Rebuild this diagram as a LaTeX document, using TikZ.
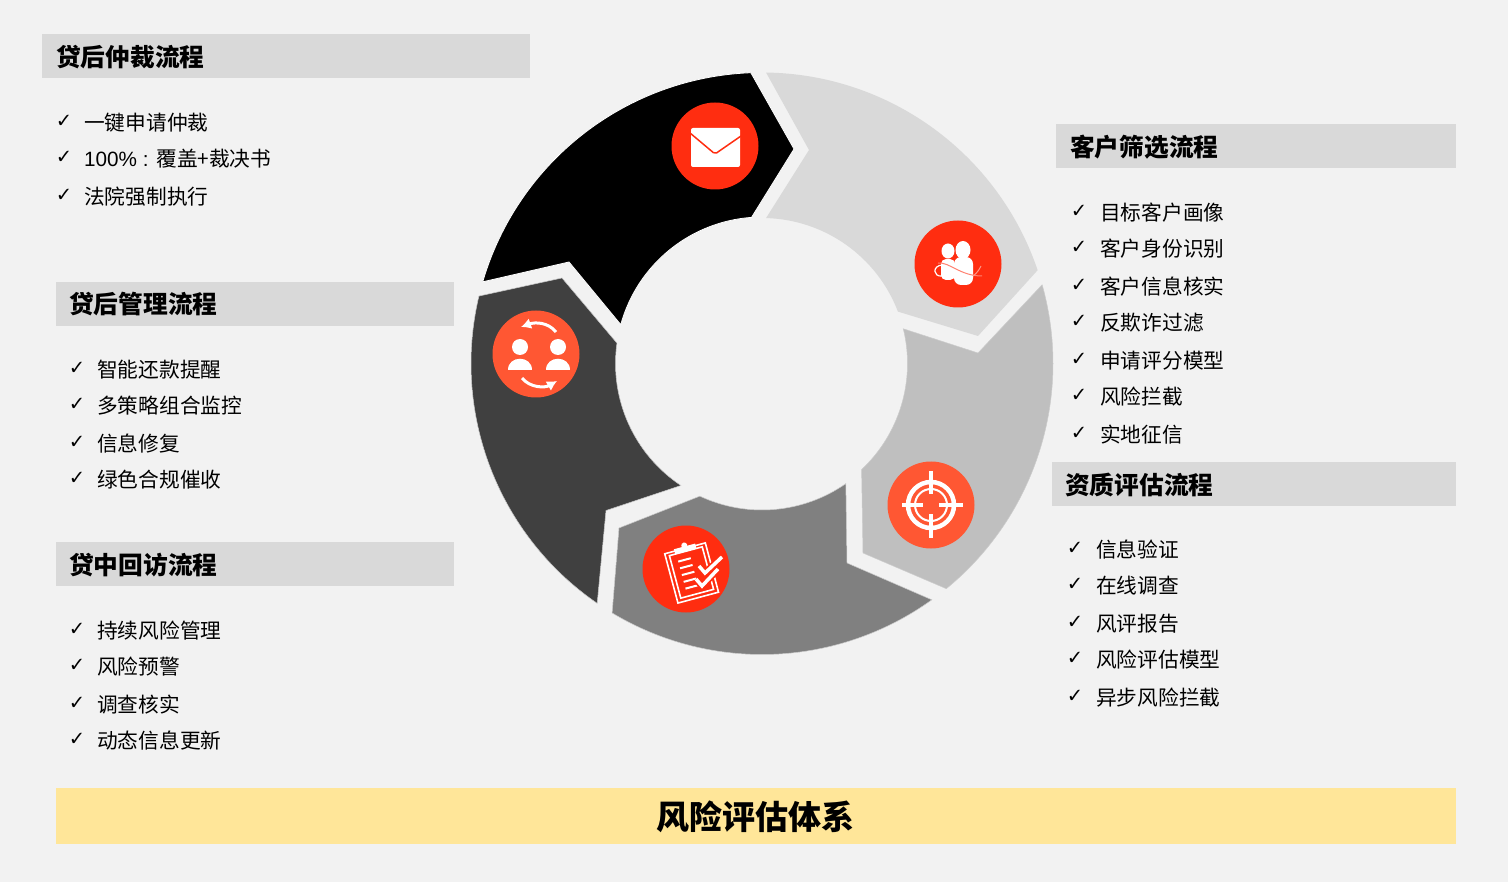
\documentclass[tikz,border=0pt]{standalone}
\usepackage{fontspec}
\setmainfont{Noto Sans CJK SC}
\newfontfamily\tickfont{DejaVu Sans}
\newfontfamily\latinfont{Liberation Sans}
\usetikzlibrary{arrows.meta}
\definecolor{bgcol}{HTML}{F2F2F2}
\definecolor{headcol}{HTML}{D9D9D9}
\definecolor{titlecol}{HTML}{FFE699}
\definecolor{redcol}{HTML}{FF2D10}
\definecolor{orangecol}{HTML}{FF5733}
\tikzset{
  headbox/.style={fill=headcol, draw=none},
  headtext/.style={anchor=west, inner sep=0, font=\fontsize{24.7}{24.7}\selectfont\bfseries},
  itemtext/.style={anchor=west, inner sep=0, yshift=-.5pt, font=\fontsize{20.7}{20.7}\selectfont},
  tick/.style={inner sep=0, xshift=-1pt, yshift=-1pt, font=\tickfont\bfseries\fontsize{19.5}{19.5}\selectfont},
  iconcircle/.style={circle, inner sep=0, minimum size=87pt, fill=#1, draw=none},
  iconline/.style={draw=white, line width=2pt}
}
\begin{document}
\begin{tikzpicture}[x=1pt, y=-1pt]
    \fill[bgcol] (0,0) rectangle (1508,882);

    % ring
    \begin{scope}[shift={(762,363.5)}, y=1pt]
      \draw[fill=black, draw=white, line width=.8pt] (163.7:291) arc[start angle=163.7, end angle=92.2, radius=291]
        -- (32,214.5) -- (94.1:146.5) arc[start angle=94.1, end angle=164.6, radius=146.5] -- (-193,101.5) -- cycle;
      \draw[fill=headcol, draw=none] (89.2:291) arc[start angle=89.2, end angle=18.7, radius=291]
        -- (216,27.5) -- (20.9:145.5) arc[start angle=20.9, end angle=88.4, radius=145.5] -- (47,213.5) -- cycle;
      \draw[fill=black!25, draw=black!20, line width=.5pt] (15.7:291) arc[start angle=15.7, end angle=-50.7, radius=291]
        -- (101,-189.5) -- (-46.8:145.5) arc[start angle=-46.8, end angle=13.8, radius=145.5] -- (216,10.5) -- cycle;
      \draw[fill=black!50, draw=black!20, line width=.5pt] (-54.3:291) arc[start angle=-54.3, end angle=-121, radius=291]
        -- (-143,-164.5) -- (-115.1:146.5) arc[start angle=-115.1, end angle=-55.1, radius=146.5] -- (85,-199.5) -- cycle;
      \draw[fill=black!75, draw=black!20, line width=.5pt] (235.5:291) arc[start angle=235.5, end angle=166.6, radius=291]
        -- (-200,85.5) -- (172:146.5) arc[start angle=172, end angle=236.4, radius=146.5] -- (-156,-147) -- cycle;
    \end{scope}

    \node[iconcircle=redcol] (mail) at (715,146){};
    \node[iconcircle=redcol] (people) at (958,264){};
    \node[iconcircle=orangecol] (target) at (931,505){};
    \node[iconcircle=redcol] (clipboard) at (686,569){};
    \node[iconcircle=orangecol] (team) at (536,354){};

    % mail icon
    \fill[white, rounded corners=2pt] (691,128) rectangle (740,167);
    \draw[redcol, line width=1.5pt, rounded corners=2pt] (690,133) -- (715,154) -- (741,136);

    % people icon
    \fill[white] (948,251) ellipse (6.5 and 7.5);
    \fill[white] (963,250) ellipse (7.5 and 9);
    \fill[white, rounded corners=5pt] (941,259) rectangle (955,280);
    \fill[white, rounded corners=7pt] (954,257) rectangle (973,285);
    \draw[white, line width=1.2pt] (942,265) .. controls (932,266) and (933,277) .. (942,276);
    \draw[redcol!60!white, line width=1pt] (938,263) .. controls (950,262) and (960,276) .. (982,276);
    \draw[redcol!50!white, line width=1pt] (973,276) .. controls (977,273) and (979,270) .. (981,266);

    % target icon
    \draw[white, line width=4.5pt] (target) circle (23);
    \draw[white, line width=2pt] (target) circle (16);
    \draw[white, line width=3.5pt] (902,505) -- (923,505);
    \draw[white, line width=3.5pt] (939,505) -- (963,505);
    \draw[white, line width=3.5pt] (931,471) -- (931,494);
    \draw[white, line width=3.5pt] (931,514) -- (931,538);

    % clipboard icon
    \begin{scope}[shift={(691.5,572.5)}, rotate=15]
      \draw[iconline, line width=1.6pt] (-21,-25) rectangle (21,26);
      \draw[iconline, line width=1.6pt] (-17,-22) rectangle (17,22);
      \fill[white] (-11,-27) rectangle (11,-22);
      \fill[white] (0,-28) circle (3);
      \draw[iconline] (-10,-14) -- (3,-14);
      \draw[iconline] (-10,-7) -- (3,-7);
      \draw[iconline] (-10,0) -- (3,0);
      \draw[iconline] (-10,7) -- (3,7);
      \draw[iconline] (-10,14) -- (3,14);
    \end{scope}
    \draw[redcol, line width=7pt] (699,566) -- (705,573) -- (722,557);
    \draw[redcol, line width=7pt] (696,579) -- (702,586) -- (718,569);
    \draw[white, line width=3.5pt] (699,566) -- (705,573) -- (722,557);
    \draw[white, line width=3.5pt] (696,579) -- (702,586) -- (718,569);

    % team icon
    \fill[white] (520,347) circle (8);
    \fill[white] (558,347) circle (8);
    \fill[white] (508,370) .. controls (508,355) and (532,355) .. (532,370) -- cycle;
    \fill[white] (546,370) .. controls (546,355) and (570,355) .. (570,370) -- cycle;
    \draw[white, line width=3pt, -{Latex[length=10pt,width=11pt]}] (556,332) .. controls (548,322) and (535,322) .. (521,327);
    \draw[white, line width=3pt, -{Latex[length=10pt,width=11pt]}] (522,378) .. controls (530,388) and (545,388) .. (557,381);

    % left column
    \node[headbox, minimum width=488pt, minimum height=44pt, inner sep=0] (boxa) at (286,56){};
    \node[headtext] (heada) at (56,57){贷后仲裁流程};
    \node[tick] (ta1) at (65,120){✓};
    \node[itemtext] (ia1) at (84,122){一键申请仲裁};
    \node[tick] (ta2) at (65,156){✓};
    \node[itemtext] (ia2) at (84,158){{\latinfont 100\% : }覆盖+裁决书};
    \node[tick] (ta3) at (65,194){✓};
    \node[itemtext] (ia3) at (84,196){法院强制执行};

    \node[headbox, minimum width=398pt, minimum height=44pt, inner sep=0] (boxb) at (255,304){};
    \node[headtext] (headb) at (69,304){贷后管理流程};
    \node[tick] (tb1) at (78,367){✓};
    \node[itemtext] (ib1) at (97,369){智能还款提醒};
    \node[tick] (tb2) at (78,403){✓};
    \node[itemtext] (ib2) at (97,405){多策略组合监控};
    \node[tick] (tb3) at (78,441){✓};
    \node[itemtext] (ib3) at (97,443){信息修复};
    \node[tick] (tb4) at (78,477){✓};
    \node[itemtext] (ib4) at (97,479){绿色合规催收};

    \node[headbox, minimum width=398pt, minimum height=44pt, inner sep=0] (boxc) at (255,564){};
    \node[headtext] (headc) at (69,565){贷中回访流程};
    \node[tick] (tc1) at (78,628){✓};
    \node[itemtext] (ic1) at (97,630){持续风险管理};
    \node[tick] (tc2) at (78,664){✓};
    \node[itemtext] (ic2) at (97,666){风险预警};
    \node[tick] (tc3) at (78,702){✓};
    \node[itemtext] (ic3) at (97,704){调查核实};
    \node[tick] (tc4) at (78,738){✓};
    \node[itemtext] (ic4) at (97,740){动态信息更新};

    % right column
    \node[headbox, minimum width=400pt, minimum height=44pt, inner sep=0] (boxd) at (1256,146){};
    \node[headtext] (headd) at (1070,147){客户筛选流程};
    \node[tick] (td1) at (1080,210){✓};
    \node[itemtext] (id1) at (1100,212){目标客户画像};
    \node[tick] (td2) at (1080,246){✓};
    \node[itemtext] (id2) at (1100,248){客户身份识别};
    \node[tick] (td3) at (1080,284){✓};
    \node[itemtext] (id3) at (1100,286){客户信息核实};
    \node[tick] (td4) at (1080,320){✓};
    \node[itemtext] (id4) at (1100,322){反欺诈过滤};
    \node[tick] (td5) at (1080,358){✓};
    \node[itemtext] (id5) at (1100,360){申请评分模型};
    \node[tick] (td6) at (1080,394){✓};
    \node[itemtext] (id6) at (1100,396){风险拦截};
    \node[tick] (td7) at (1080,432){✓};
    \node[itemtext] (id7) at (1100,434){实地征信};

    \node[headbox, minimum width=404pt, minimum height=44pt, inner sep=0] (boxe) at (1254,484){};
    \node[headtext] (heade) at (1065,485){资质评估流程};
    \node[tick] (te1) at (1076,547){✓};
    \node[itemtext] (ie1) at (1096,549){信息验证};
    \node[tick] (te2) at (1076,583){✓};
    \node[itemtext] (ie2) at (1096,585){在线调查};
    \node[tick] (te3) at (1076,621){✓};
    \node[itemtext] (ie3) at (1096,623){风评报告};
    \node[tick] (te4) at (1076,657){✓};
    \node[itemtext] (ie4) at (1096,659){风险评估模型};
    \node[tick] (te5) at (1076,695){✓};
    \node[itemtext] (ie5) at (1096,697){异步风险拦截};

    % title bar
    \node[fill=titlecol, minimum width=1400pt, minimum height=56pt, inner sep=0] (title) at (756,816){};
    \node[inner sep=0, font=\fontsize{33}{33}\selectfont\bfseries] (titletext) at (755,817){风险评估体系};
\end{tikzpicture}
\end{document}
